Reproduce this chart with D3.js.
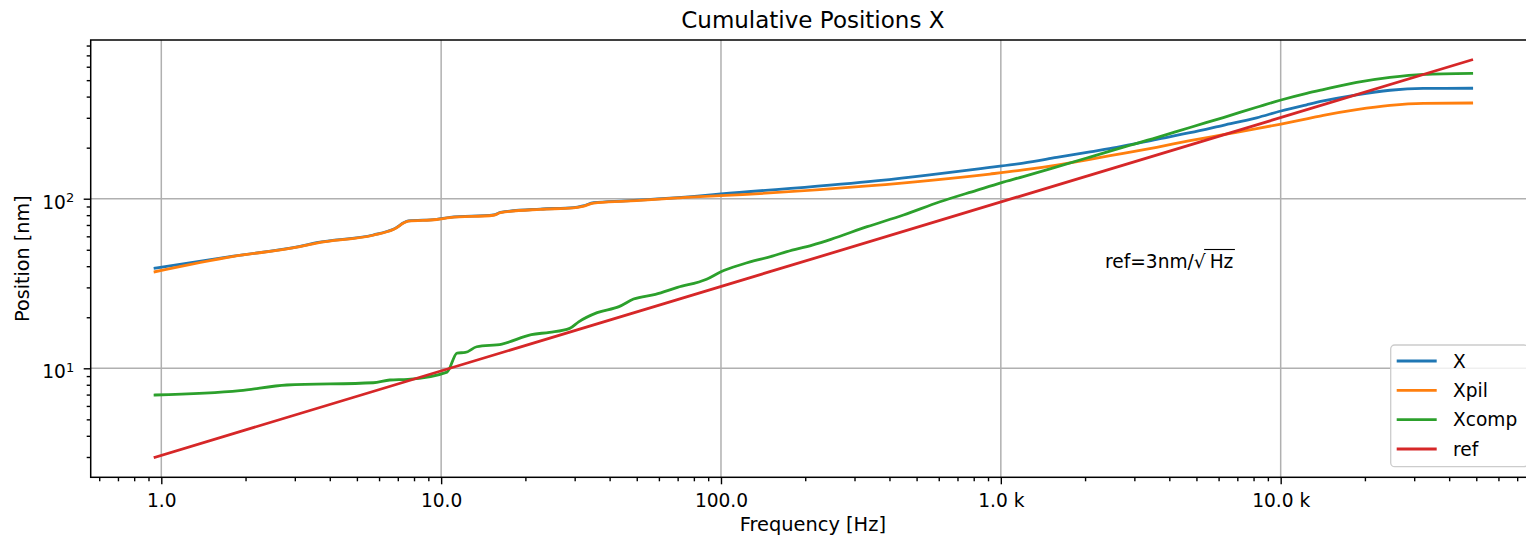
<!DOCTYPE html>
<html>
<head>
<meta charset="utf-8">
<script src="https://cdn.jsdelivr.net/npm/d3@7"></script>
<style>
  html, body { margin: 0; padding: 0; background: #fff; }
  svg { display: block; }
  text { font-family: "DejaVu Sans", sans-serif; fill: #000; }
</style>
</head>
<body>
<svg id="chart" width="1526" height="539"></svg>
<script>
// ---------------- data ----------------
const seriesNames = ["X", "Xpil", "Xcomp", "ref"];
const seriesColors = ["#1f77b4", "#ff7f0e", "#2ca02c", "#d62728"];

// [frequency Hz, position nm]
const dataX = [[0.95,38.9],[1.81,45.9],[3.13,52.3],[3.59,55.0],[5.72,61.1],[6.75,66.0],[7.63,73.9],[9.64,75.6],[10.75,77.6],[15.4,80.2],[16.3,83.1],[22.6,86.9],[29.7,88.5],[32.1,90.6],[35.1,94.7],[45.7,97.2],[84.1,104.0],[100,106.6],[336,126],[914,153],[1203,162],[1584,175],[2083,189],[2594,201],[3605,224],[4742,245],[6237,271],[8204,300],[10025,329],[12385,358],[14200,377],[18690,410],[24580,436],[32330,447],[48140,448]];
const dataXpil = [[0.95,37.1],[1.81,45.7],[3.13,52.1],[3.59,54.8],[5.72,60.9],[6.75,65.8],[7.63,73.7],[9.64,75.4],[10.75,77.3],[15.4,79.9],[16.3,82.8],[22.6,86.6],[29.7,88.2],[32.1,90.2],[35.1,94.2],[45.7,96.7],[84.1,102.8],[100,104.2],[336,119],[914,139.8],[1203,147.7],[1584,158],[2083,170.7],[2739,185.3],[3605,201],[4742,219.8],[6237,238.5],[8204,258.7],[10025,275.6],[12385,296],[14200,310],[18690,335],[24580,355],[32330,365],[48140,366.6]];
const dataXcomp = [[0.95,6.96],[1.91,7.38],[2.81,7.97],[5.72,8.22],[6.56,8.53],[7.6,8.6],[10.5,9.5],[11.4,12.3],[12.2,12.4],[13.4,13.4],[16.5,13.9],[21.0,15.8],[24.4,16.3],[28.8,17.2],[31.0,18.8],[36.1,21.3],[43.2,23.1],[48.7,25.6],[58.3,27.3],[69.9,30.0],[88.8,33.5],[100,37.1],[120,41.2],[152.6,45.9],[172,48.7],[212,53.3],[247,57.6],[333,68.4],[449,80.2],[606,95.9],[819,112],[1000,124],[1203,135],[1584,154],[2083,176],[2594,196],[3605,229],[4742,263],[6237,301],[8204,346],[10025,382],[12385,418],[14200,440],[18690,485],[24580,519],[32330,541],[48140,548.8]];
const dataRef = [[0.95,2.99],[48140,658]];
const seriesData = [dataX, dataXpil, dataXcomp, dataRef];

const xMajorTicks = [1, 10, 100, 1000, 10000];
const xMajorLabels = ["1.0", "10.0", "100.0", "1.0 k", "10.0 k"];
const yMajorTicks = [10, 100];
const yMajorExp = ["1", "2"];

const titleText = "Cumulative Positions X";
const xLabelText = "Frequency [Hz]";
const yLabelText = "Position [nm]";
const annotationMain = "ref=3nm/\u221A";
const annotationUnder = "Hz";

// ---------------- layout ----------------
const plotL = 90.7, plotR = 1535, plotT = 40, plotB = 477.3;
const xDomain = [0.5594, 81060];
const yDomain = [2.277, 862.5];

const svg = d3.select("#chart");
const x = d3.scaleLog().domain(xDomain).range([plotL, plotR]);
const y = d3.scaleLog().domain(yDomain).range([plotB, plotT]);

// minor ticks
const xMinor = [];
for (let e = -1; e <= 4; e++) for (let m = 2; m <= 9; m++) {
  const v = m * Math.pow(10, e);
  if (v > xDomain[0] && v < xDomain[1]) xMinor.push(v);
}
const yMinor = [];
for (let e = 0; e <= 2; e++) for (let m = 2; m <= 9; m++) {
  const v = m * Math.pow(10, e);
  if (v > yDomain[0] && v < yDomain[1]) yMinor.push(v);
}

// grid
const grid = svg.append("g");
grid.selectAll("line.gx").data(xMajorTicks).enter().append("line")
  .attr("x1", d => x(d)).attr("x2", d => x(d)).attr("y1", plotT).attr("y2", plotB)
  .attr("stroke", "#b0b0b0").attr("stroke-width", 1.5);
grid.selectAll("line.gy").data(yMajorTicks).enter().append("line")
  .attr("y1", d => y(d)).attr("y2", d => y(d)).attr("x1", plotL).attr("x2", plotR)
  .attr("stroke", "#b0b0b0").attr("stroke-width", 1.5);

// clip
svg.append("clipPath").attr("id", "clip").append("rect")
  .attr("x", plotL).attr("y", plotT).attr("width", plotR - plotL).attr("height", plotB - plotT);

const line = d3.line().x(d => x(d[0])).y(d => y(d[1])).curve(d3.curveMonotoneX);
const lines = svg.append("g").attr("clip-path", "url(#clip)");
seriesData.forEach((s, i) => {
  lines.append("path").datum(s).attr("d", line)
    .attr("fill", "none").attr("stroke", seriesColors[i]).attr("stroke-width", 2.8)
    .attr("stroke-linejoin", "round").attr("stroke-linecap", "square");
});

// axes
const fontSize = 18.6;
const xAxisMajor = d3.axisBottom(x).tickValues(xMajorTicks)
  .tickFormat((d, i) => xMajorLabels[i]).tickSize(7).tickPadding(9.2).tickSizeOuter(0);
const xAxisMinor = d3.axisBottom(x).tickValues(xMinor).tickFormat("").tickSize(4).tickSizeOuter(0);
const gxMin = svg.append("g").attr("transform", `translate(0,${plotB})`).call(xAxisMinor);
const gx = svg.append("g").attr("transform", `translate(0,${plotB})`).call(xAxisMajor);
gx.selectAll("text").attr("font-size", fontSize).attr("fill", "#000");

const yAxisMajor = d3.axisLeft(y).tickValues(yMajorTicks).tickFormat("").tickSize(7).tickPadding(9).tickSizeOuter(0);
const yAxisMinor = d3.axisLeft(y).tickValues(yMinor).tickFormat("").tickSize(4).tickSizeOuter(0);
const gyMin = svg.append("g").attr("transform", `translate(${plotL},0)`).call(yAxisMinor);
const gy = svg.append("g").attr("transform", `translate(${plotL},0)`).call(yAxisMajor);
gy.selectAll(".tick text").each(function(d, i) {
  const t = d3.select(this);
  t.text(null).attr("font-size", fontSize).attr("dy", "0.52em").attr("x", -16.5);
  t.append("tspan").text("10");
  t.append("tspan").attr("font-size", 13).attr("dy", -6.5).text(yMajorExp[i]);
});
[gx, gxMin, gy, gyMin].forEach(g => {
  g.select(".domain").remove();
  g.selectAll(".tick line").attr("stroke", "#000").attr("stroke-width", 1.4);
});

// spines
svg.append("rect").attr("x", plotL).attr("y", plotT).attr("width", plotR - plotL).attr("height", plotB - plotT)
  .attr("fill", "none").attr("stroke", "#000").attr("stroke-width", 1.5);

// labels
svg.append("text").attr("x", (plotL + plotR) / 2).attr("y", 28).attr("text-anchor", "middle")
  .attr("font-size", 23).text(titleText);
svg.append("text").attr("x", (plotL + plotR) / 2).attr("y", 531).attr("text-anchor", "middle")
  .attr("font-size", 19.4).text(xLabelText);
svg.append("text").attr("transform", `translate(28.5,${(plotT + plotB) / 2}) rotate(-90)`)
  .attr("text-anchor", "middle").attr("font-size", 19.2).text(yLabelText);

// annotation
const ann = svg.append("text").attr("x", 1105).attr("y", 268).attr("font-size", 18.6);
ann.append("tspan").text(annotationMain);
const under = ann.append("tspan").attr("dx", 4).text(annotationUnder);
const annNode = ann.node();
const nMain = annotationMain.length;
const sqEnd = annNode.getEndPositionOfChar(nMain - 1).x;
const txtEnd = annNode.getEndPositionOfChar(nMain + annotationUnder.length - 1).x;
svg.append("line").attr("x1", sqEnd - 1.5).attr("x2", txtEnd + 1.5).attr("y1", 249.5).attr("y2", 249.5)
  .attr("stroke", "#000").attr("stroke-width", 1.1);

// legend
const legR = plotR - 7, legL = 1390.7, legT = 345, legB = 466.7;
const leg = svg.append("g");
leg.append("rect").attr("x", legL).attr("y", legT).attr("width", legR - legL).attr("height", legB - legT)
  .attr("rx", 4).attr("fill", "#fff").attr("fill-opacity", 0.8).attr("stroke", "#cccccc").attr("stroke-width", 1.3);
const rowY = d3.scaleLinear().domain([0, 3]).range([361, 449]);
seriesNames.forEach((n, i) => {
  leg.append("line").attr("x1", legL + 6).attr("x2", legL + 46).attr("y1", rowY(i)).attr("y2", rowY(i))
    .attr("stroke", seriesColors[i]).attr("stroke-width", 2.8);
  leg.append("text").attr("x", legL + 62.3).attr("y", rowY(i)).attr("dy", "0.36em")
    .attr("font-size", fontSize).text(n);
});
</script>
</body>
</html>
